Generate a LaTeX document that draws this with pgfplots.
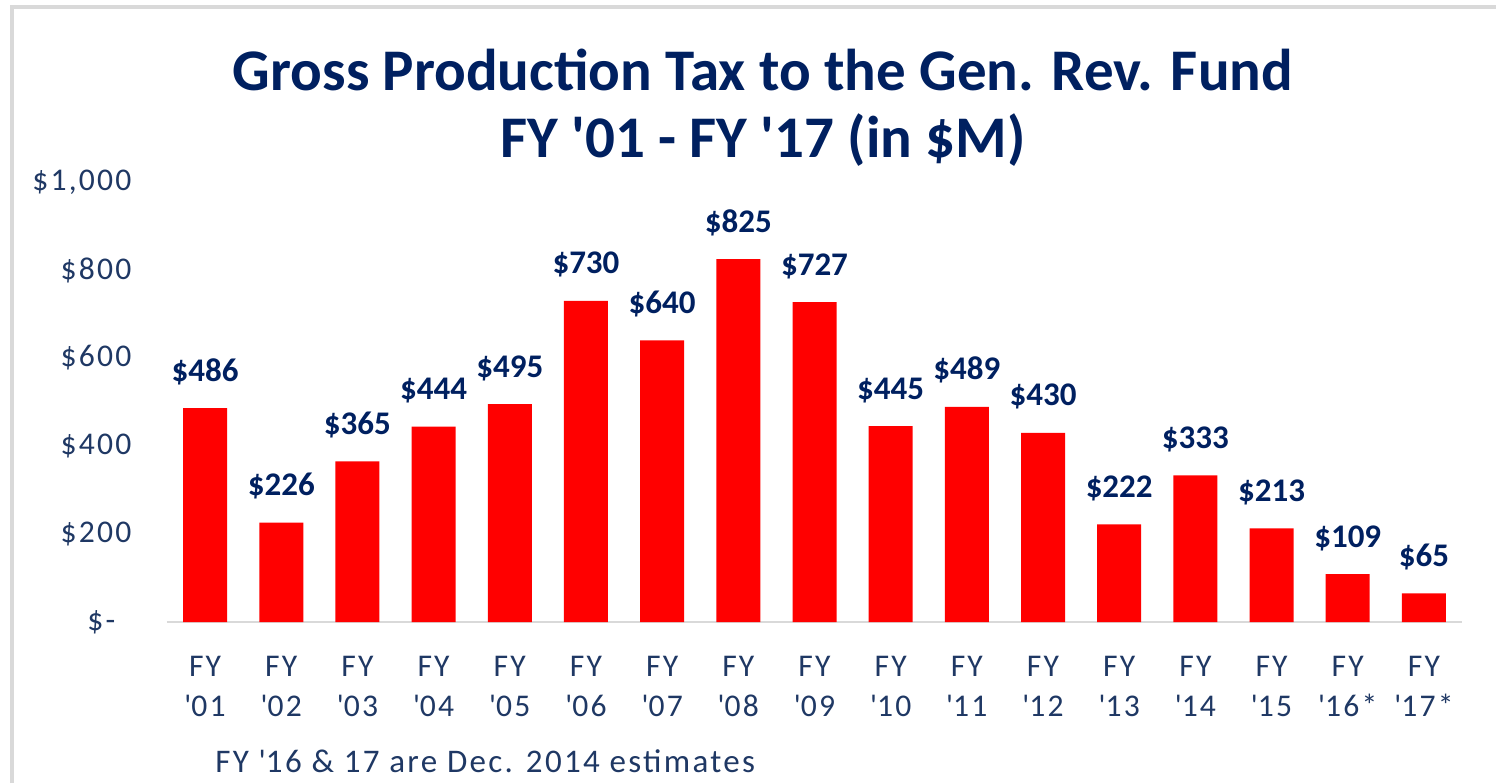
\documentclass[border=0pt]{standalone}
\usepackage{pgfplots}
\pgfplotsset{compat=1.18}
\usepackage{fontspec}
\setmainfont{Carlito}
\newfontfamily\wide[LetterSpace=7]{Carlito}
\definecolor{navy}{HTML}{002060}
\definecolor{tickblue}{HTML}{1F3864}
\definecolor{framegray}{HTML}{D9D9D9}
\newcommand{\q}{\textquotesingle}
\begin{document}
\begin{tikzpicture}
% frame (partly cropped in the reference)
\draw[framegray, line width=1.75pt] (6pt,-391.5pt) -- (6pt,-3.5pt) -- (748pt,-3.5pt);
% title
\node[anchor=base, text=navy, font=\bfseries\fontsize{29.5}{34}\selectfont, inner sep=0] at (381.5pt,-45pt) {Gross Production Tax to the Gen. Rev. Fund};
\node[anchor=base, text=navy, font=\bfseries\fontsize{29.5}{34}\selectfont, inner sep=0] at (381.5pt,-78.5pt) {FY \q01 - FY \q17 (in \$M)};
\begin{axis}[
  at={(83.5pt,-311pt)}, anchor=south west,
  scale only axis, width=647.5pt, height=220pt,
  xmin=-0.5, xmax=16.5, ymin=0, ymax=1000,
  separate axis lines,
  axis x line*=bottom, axis y line*=left,
  x axis line style={draw=framegray, line width=1pt, -},
  y axis line style={draw=none},
  major tick length=0pt,
  ytick={0,200,400,600,800,1000},
  yticklabels={\$-\hphantom{0},\$200,\$400,\$600,\$800,{\$1,000}},
  xtick={0,...,16},
  xticklabels={{FY\\\q01},{FY\\\q02},{FY\\\q03},{FY\\\q04},{FY\\\q05},{FY\\\q06},{FY\\\q07},{FY\\\q08},{FY\\\q09},{FY\\\q10},{FY\\\q11},{FY\\\q12},{FY\\\q13},{FY\\\q14},{FY\\\q15},{FY\\\q16*},{FY\\\q17*}},
  yticklabel style={font=\wide\fontsize{15.8}{19}\selectfont, text=tickblue, xshift=-14.3pt},
  xticklabel style={font=\wide\fontsize{15.8}{20}\selectfont, text=tickblue, align=center, yshift=-13.5pt},
  ybar, bar width=22pt,
  nodes near coords={\$\pgfmathprintnumber[assume math mode=true]{\pgfplotspointmeta}},
  every node near coord/.style={anchor=base, inner sep=0pt, yshift=13.5pt, text=navy, font=\bfseries\fontsize{16.5}{19}\selectfont},
  clip=false,
]
\addplot[fill=red, draw=none] coordinates {
  (0,486) (1,226) (2,365) (3,444) (4,495) (5,730) (6,640) (7,825) (8,727)
  (9,445) (10,489) (11,430) (12,222) (13,333) (14,213) (15,109) (16,65)
};
\end{axis}
\node[anchor=base west, text=tickblue, font=\wide\fontsize{16.5}{19}\selectfont, inner sep=0] at (107.5pt,-386pt) {FY \q16 \& 17 are Dec. 2014 estimates};
\pgfresetboundingbox
\useasboundingbox (0,0) rectangle (748pt,-391.5pt);
\end{tikzpicture}
\end{document}
